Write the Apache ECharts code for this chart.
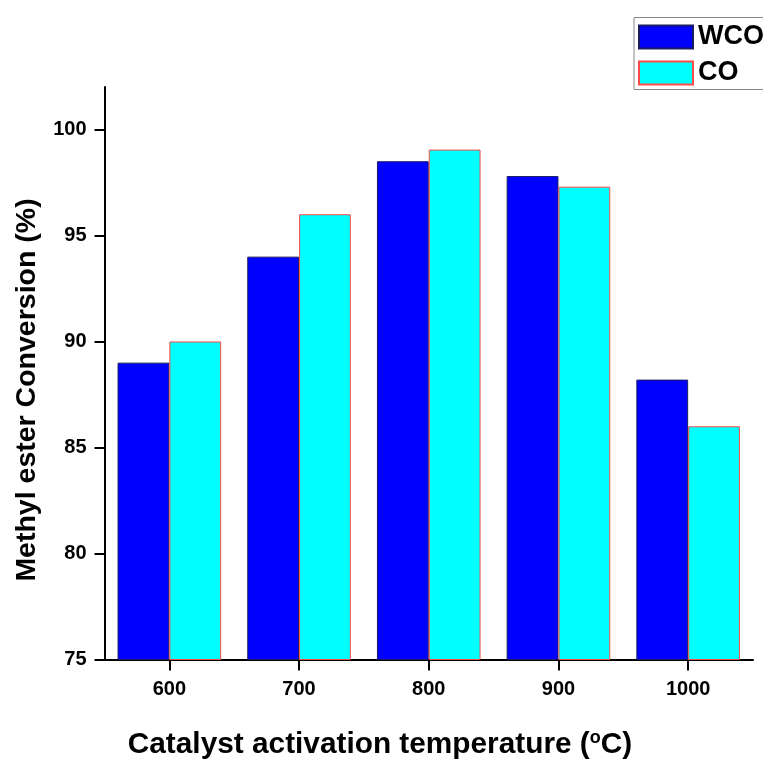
<!DOCTYPE html>
<html>
<head>
<meta charset="utf-8">
<script src="https://cdn.jsdelivr.net/npm/echarts@6/dist/echarts.min.js"></script>
<style>
html,body{margin:0;padding:0;background:#fff;}
#chart{width:763px;height:763px;}
</style>
</head>
<body>
<div id="chart"></div>
<script>
var temperatures = [600, 700, 800, 900, 1000];
var wcoValues = [89.0, 94.0, 98.5, 97.8, 88.2];
var coValues = [90.0, 96.0, 99.05, 97.3, 86.0];
var xTicks = [600, 700, 800, 900, 1000];
var yTicks = [75, 80, 85, 90, 95, 100];
var seriesNames = ['WCO', 'CO'];

var FONT = '"Liberation Sans", Arial, sans-serif';

function pairs(vals) {
  return temperatures.map(function (t, i) { return [t, vals[i]]; });
}

var chart = echarts.init(document.getElementById('chart'), null, {renderer: 'canvas'});
chart.setOption({
  animation: false,
  backgroundColor: '#ffffff',
  grid: {left: 104.5, right: 10, top: 87, bottom: 103.5, containLabel: false},
  legend: {
    data: seriesNames,
    orient: 'vertical',
    left: 634,
    top: 17.5,
    icon: 'rect',
    itemWidth: 54,
    itemHeight: 23,
    itemGap: 9,
    padding: [6, 10, 3, 4],
    borderColor: '#888888',
    borderWidth: 1,
    backgroundColor: '#ffffff',
    textStyle: {fontFamily: FONT, fontWeight: 'bold', fontSize: 27, color: '#000', lineHeight: 26}
  },
  xAxis: {
    type: 'value',
    min: 550,
    max: 1050,
    splitLine: {show: false},
    axisLine: {show: true, onZero: false, lineStyle: {color: '#000', width: 2}},
    axisTick: {show: true, inside: false, length: 11, customValues: xTicks, lineStyle: {color: '#000', width: 2}},
    axisLabel: {customValues: xTicks, margin: 20, fontFamily: FONT, fontWeight: 'bold', fontSize: 20, color: '#000',
      formatter: function (v) { return String(v); }}
  },
  yAxis: {
    type: 'value',
    min: 75,
    max: 102,
    splitLine: {show: false},
    axisLine: {show: true, onZero: false, lineStyle: {color: '#000', width: 2}},
    axisTick: {show: true, inside: false, length: 10, customValues: yTicks, lineStyle: {color: '#000', width: 2}},
    axisLabel: {customValues: yTicks, margin: 18, fontFamily: FONT, fontWeight: 'bold', fontSize: 20, color: '#000',
      formatter: function (v) { return String(v); }}
  },
  series: [
    {
      name: seriesNames[0],
      type: 'bar',
      barWidth: 51.8,
      barGap: '0%',
      data: pairs(wcoValues),
      itemStyle: {color: '#0000ff', borderColor: '#1c1c60', borderWidth: 1}
    },
    {
      name: seriesNames[1],
      type: 'bar',
      barWidth: 51.8,
      barGap: '0%',
      data: pairs(coValues),
      itemStyle: {color: '#00ffff', borderColor: '#ff4a4a', borderWidth: 1}
    }
  ],
  graphic: [
    {
      type: 'text',
      x: 380,
      y: 745,
      style: {
        text: '{m|Catalyst activation temperature (}{s|o}{m|C)}',
        align: 'center',
        verticalAlign: 'middle',
        rich: {
          m: {fontFamily: FONT, fontWeight: 'bold', fontSize: 29.8, fill: '#000'},
          s: {fontFamily: FONT, fontWeight: 'bold', fontSize: 18, fill: '#000', verticalAlign: 'top', padding: [0, 0, 14, 0]}
        }
      }
    },
    {
      type: 'text',
      x: 27,
      y: 390,
      rotation: Math.PI / 2,
      style: {
        text: 'Methyl ester Conversion (%)',
        align: 'center',
        verticalAlign: 'middle',
        fontFamily: FONT,
        fontWeight: 'bold',
        fontSize: 28.5,
        fill: '#000'
      }
    }
  ]
});
</script>
</body>
</html>
